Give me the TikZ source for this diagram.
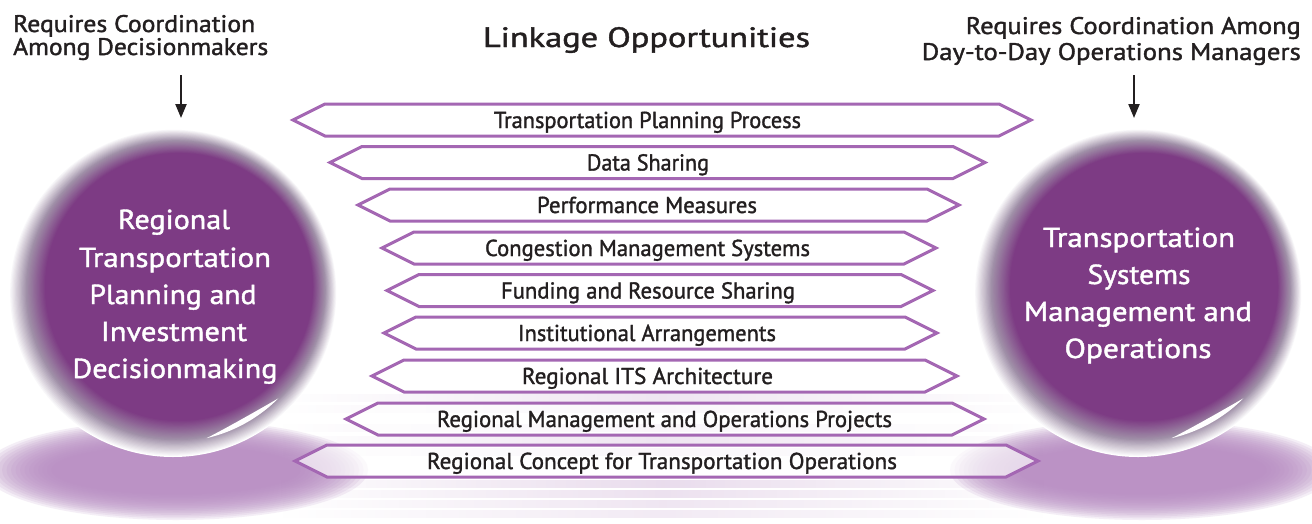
\documentclass[tikz,border=0pt]{standalone}
\usepackage{fontspec}
\setmainfont{PT Sans}[FakeBold=1.4]
\usepackage{graphicx}
\usetikzlibrary{arrows.meta,calc,fadings}
\definecolor{sph}{HTML}{7D3B84}
\definecolor{sphedge}{HTML}{A090A8}
\definecolor{boxc}{HTML}{A467B3}
\definecolor{lav}{HTML}{B88CC3}
\definecolor{ink}{HTML}{231F20}
\tikzfading[name=sidefade, left color=transparent!100, right color=transparent!100, middle color=transparent!0]
\newcommand\fw[2]{\resizebox{#1pt}{\height}{#2}}
\newcommand\linkbox[7]{%
  \draw[linkline] (#3,-#2) -- (#3+32,-#2+16) -- (#4-32,-#2+16) -- (#4,-#2) -- (#4-32,-#2-16) -- (#3+32,-#2-16) -- cycle;
  \node[linklabel] (#1) at (#5,-#2-8) {\fw{#6}{#7}};}
% glassy ball drawn as concentric discs, centre node name #1
\newcommand\glassball[1]{%
  \foreach \i in {0,...,14}{%
    \pgfmathsetmacro\rr{164-\i}%
    \pgfmathsetmacro\cpct{\i/14*100}%
    \pgfmathsetmacro\ofs{\i*0.2}%
    \fill[sphedge!\cpct!white] ($(#1.center)+(\ofs,\ofs)$) circle [radius=\rr];}%
  \foreach \i in {1,...,16}{%
    \pgfmathsetmacro\rr{150-\i}%
    \pgfmathsetmacro\cpct{\i/16*100}%
    \pgfmathsetmacro\ofs{2.8+\i*0.2}%
    \fill[sph!\cpct!sphedge] ($(#1.center)+(\ofs,\ofs)$) circle [radius=\rr];}%
  \fill[white] ($(#1.center)+(-45:149)$) arc[start angle=-45, end angle=-77, radius=149]
    .. controls ($(#1.center)+(-69:145.5)$) and ($(#1.center)+(-53:145)$) .. cycle;}
\newcommand\softshadow[2]{%
  \foreach \k in {0,...,15}{%
    \pgfmathsetmacro\rx{192-\k*4.5}%
    \pgfmathsetmacro\ry{50-\k*1.7}%
    \fill[lav, opacity=0.14] (#1,#2) ellipse [x radius=\rx, y radius=\ry];}}
\tikzset{
  linkline/.style={draw=boxc, line width=3pt, line join=miter, fill=white, fill opacity=0.65},
  linklabel/.style={anchor=base, inner sep=0pt, text=ink, font=\fontsize{23}{23}\selectfont},
  headtext/.style={inner sep=0pt, text=ink, font=\fontsize{24}{24}\selectfont},
  spheretext/.style={anchor=base, inner sep=0pt, text=white, font=\fontsize{27.5}{27.5}\selectfont},
  sphere/.style={circle, inner sep=0pt, minimum size=328pt},
  downarrow/.style={-{Triangle[length=14pt,width=11pt]}, line width=2.2pt, draw=ink}
}
\begin{document}
\begin{tikzpicture}[x=1pt,y=1pt]
\useasboundingbox (0,0) rectangle (1312,-523);
\fill[white] (0,0) rectangle (1312,-523);
% shadows
\softshadow{176}{-470}
\softshadow{1142}{-470}
% reflection stripes
\foreach \yy/\op in {398/0.22,409/0.18,428/0.2,440/0.22,452/0.2,484/0.3,494/0.26,504/0.22,514/0.18}{
  \fill[lav, opacity=\op, path fading=sidefade] (280,-\yy-4) rectangle (1045,-\yy+4);
}
% header texts
\node[headtext, anchor=base west] (hl1) at (13,-32) {\fw{242}{Requires Coordination}};
\node[headtext, anchor=base west] (hl2) at (13,-55) {\fw{255}{Among Decisionmakers}};
\node[headtext, anchor=base east] (hr1) at (1301,-34) {\fw{335}{Requires Coordination Among}};
\node[headtext, anchor=base east] (hr2) at (1301,-60) {\fw{379}{Day-to-Day Operations Managers}};
\node[anchor=base, inner sep=0pt, text=ink, font=\fontsize{28}{28}\selectfont] (title) at (646.5,-47) {\fw{327}{Linkage Opportunities}};
% link boxes
\linkbox{r1}{120}{293}{1031}{647.5}{307}{Transportation Planning Process}
\linkbox{r2}{162.5}{330}{985}{648}{122}{Data Sharing}
\linkbox{r3}{205}{358}{959}{647}{220}{Performance Measures}
\linkbox{r4}{248}{382}{936}{647.5}{325}{Congestion Management Systems}
\linkbox{r5}{290.5}{387}{933}{648}{294}{Funding and Resource Sharing}
\linkbox{r6}{333}{384}{937}{647}{258}{Institutional Arrangements}
\linkbox{r7}{376}{372}{957}{647.5}{251}{Regional ITS Architecture}
\linkbox{r8}{419}{346}{984}{664.5}{455}{Regional Management and Operations Projects}
\linkbox{r9}{461}{295}{1038}{662}{470}{Regional Concept for Transportation Operations}
% spheres
\node[sphere] (LS) at (173,-293) {};
\node[sphere] (RS) at (1138,-293) {};
\glassball{LS}
\glassball{RS}
% sphere texts
\node[spheretext] (l1) at (174,-229) {\fw{112}{Regional}};
\node[spheretext] (l2) at (175,-267) {\fw{192}{Transportation}};
\node[spheretext] (l3) at (173,-304) {\fw{167}{Planning and}};
\node[spheretext] (l4) at (174,-341) {\fw{146}{Investment}};
\node[spheretext] (l5) at (175,-378) {\fw{205}{Decisionmaking}};
\node[spheretext] (q1) at (1139,-247) {\fw{192}{Transportation}};
\node[spheretext] (q2) at (1139,-284) {\fw{103}{Systems}};
\node[spheretext] (q3) at (1138,-321) {\fw{228}{Management and}};
\node[spheretext] (q4) at (1138,-358) {\fw{147}{Operations}};
% arrows
\coordinate (la1) at (181,-75);
\coordinate (la2) at (181,-118);
\coordinate (ra1) at (1134,-75);
\coordinate (ra2) at (1134,-118);
\draw[downarrow] (la1) -- (la2);
\draw[downarrow] (ra1) -- (ra2);
\end{tikzpicture}
\end{document}
